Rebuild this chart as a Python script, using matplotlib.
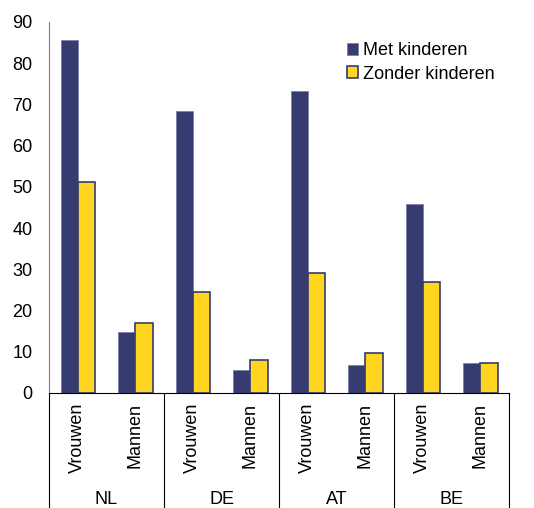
import matplotlib
matplotlib.use("Agg")
import matplotlib.pyplot as plt
import matplotlib.transforms as mtransforms
import numpy as np

plt.rcParams['font.family'] = ['Liberation Sans', 'DejaVu Sans']

landen = ["NL", "DE", "AT", "BE"]
geslacht = ["Vrouwen", "Mannen"]
series = ["Met kinderen", "Zonder kinderen"]
met_kinderen = [85.7, 14.9, 68.5, 5.6, 73.3, 6.7, 45.9, 7.2]
zonder_kinderen = [51.3, 17.1, 24.5, 7.9, 29.2, 9.8, 27.0, 7.3]
yticks = [0, 10, 20, 30, 40, 50, 60, 70, 80, 90]

navy = "#363B70"
geel = "#FFD520"
fs = 13

fig = plt.figure(figsize=(5.34, 5.08), dpi=100)
ax = fig.add_axes([0.0918, 0.2264, 0.8614, 0.7303])

x = np.arange(len(met_kinderen))
w = 0.3
ax.bar(x - w / 2, met_kinderen, w, color=navy, edgecolor="#7c80a8",
       linewidth=0.6, label=series[0])
ax.bar(x + w / 2, zonder_kinderen, w, color=geel, edgecolor=navy,
       linewidth=1.2, label=series[1])

ax.set_xlim(-0.5, len(x) - 0.5)
ax.set_ylim(0, 90)
ax.set_yticks(yticks)
ax.tick_params(axis='y', length=0, pad=12, labelsize=fs)

for s in ['top', 'right']:
    ax.spines[s].set_visible(False)
ax.spines['left'].set_color("#808080")
ax.spines['bottom'].set_color("black")

# subcategorie labels (Vrouwen / Mannen)
ax.set_xticks(x)
ax.set_xticklabels(geslacht * len(landen), rotation=90, fontsize=fs)
ax.tick_params(axis='x', which='major', length=0, pad=7)

# scheidingslijnen tussen landen
grenzen = np.arange(-0.5, len(x), 2)
ax.set_xticks(grenzen, minor=True)
ax.tick_params(axis='x', which='minor', length=84, width=0.8, color="black")

trans = mtransforms.blended_transform_factory(ax.transData, fig.transFigure)
for i, land in enumerate(landen):
    ax.text(2 * i + 0.5, 1 - 499 / 508, land, transform=trans,
            ha='center', va='center', fontsize=fs)

ax.legend(loc='upper left', bbox_to_anchor=(0.637, 0.931),
          bbox_transform=fig.transFigure, frameon=False, fontsize=fs,
          handlelength=0.6, handleheight=0.6, handletextpad=0.25,
          labelspacing=0.35, borderaxespad=0)

fig.savefig("out.png", dpi=100)
